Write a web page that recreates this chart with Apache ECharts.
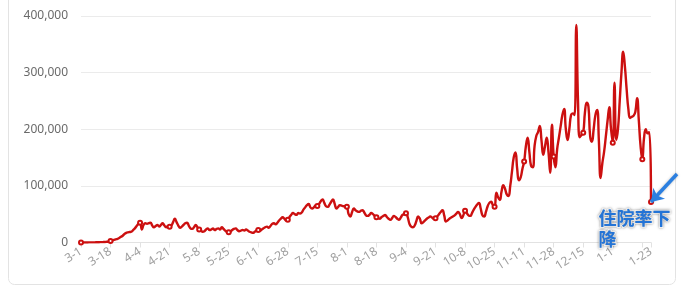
<!DOCTYPE html>
<html>
<head>
<meta charset="utf-8">
<script src="https://cdn.jsdelivr.net/npm/echarts@6/dist/echarts.min.js"></script>
<style>
html,body{margin:0;padding:0;background:#fff;}
#c{width:692px;height:305px;}
</style>
</head>
<body>
<div id="c"></div>
<script>
// Daily values, 2020-03-01 .. 2021-01-23
const mar = [0,0,0,100,100,200,200,300,300,400,500,600,700,800,1000,1300,1800,2600,3500,4500,5500,6500,8000,10000,12000,15000,17000,18000,18500,19000,22000];
const apr = [25000,29000,33000,35000,23000,31000,34000,33000,34000,35000,30000,27000,29000,31000,28000,31000,34000,30000,27000,29000,28000,30000,36000,42000,36000,30000,26000,28000,31000,34000];
const may = [35000,30000,25000,24000,27000,31000,27000,23000,21000,19000,20000,23000,25000,22000,23000,25000,22000,24000,25000,23000,27000,24000,21000,19000,18000,19000,22000,24000,25000,22000,20000];
const jun = [21000,22000,21000,23000,21000,19000,18000,17000,19000,21000,22000,21000,23000,25000,27000,28000,26000,29000,33000,34000,32000,35000,39000,42000,44500,42000,39000,40000,45000,49000];
const jul = [52000,50000,49000,52000,51000,53000,58000,62000,66000,68000,62000,60000,62000,65000,64500,68000,73000,76000,70000,64000,63000,67000,72000,76000,68000,60000,63000,66000,65000,64000,64000];
const aug = [63000,50000,46000,54000,60000,57000,55000,54000,56000,57000,53000,48000,47000,49000,52000,50000,47000,44500,43000,42000,45000,47000,48600,45000,42000,40000,43000,47000,45000,42000,40000];
const sep = [44000,48600,50000,51600,45000,33000,28000,27000,30000,38000,46000,42000,34000,36000,39000,42000,44000,46000,44000,42000,43000,46000,50000,54000,57000,48000,37000,39000,42000,44000];
const oct = [46000,48000,51000,54000,50000,43000,48000,56000,52000,48000,47000,52000,58000,63000,67000,70000,60000,48000,46000,54000,64000,70000,72000,66000,63000,88000,80000,75000,90000,101000,95000];
const nov = [85000,82000,100000,125000,150000,159000,130000,110000,115000,130000,143000,170000,185000,160000,135000,133000,170000,188000,195000,206000,180000,155000,170000,185000,160000,123000,208000,152000,133000,165000];
const dec = [185000,205000,225000,236000,200000,181000,200000,225000,228000,225000,384000,250000,186000,190000,194000,230000,247000,240000,187000,178000,200000,225000,234000,180000,114000,140000,160000,187000,215000,239000,200000];
const jan = [176000,282000,181000,200000,250000,300000,337000,310000,270000,235000,220000,222000,224000,231000,255000,215000,170000,147000,185000,200000,193000,195000,71500];

const values = [].concat(mar, apr, may, jun, jul, aug, sep, oct, nov, dec, jan);

// Category labels: one per day starting 3-1
const categories = [];
{
  const start = Date.UTC(2020, 2, 1);
  for (let i = 0; i < values.length; i++) {
    const d = new Date(start + i * 86400000);
    categories.push((d.getUTCMonth() + 1) + '-' + d.getUTCDate());
  }
}
const yTicks = [0, 100000, 200000, 300000, 400000];
const annotationText = '住院率下降';

const last = values.length - 1;
const chart = echarts.init(document.getElementById('c'), null, {renderer: 'canvas'});
chart.setOption({
  animation: false,
  graphic: [{
    type: 'rect',
    shape: {x: 8.5, y: -10, width: 667, height: 294.5, r: 6},
    style: {fill: 'none', stroke: '#e3e3e3', lineWidth: 1},
    silent: true, z: -1
  }],
  grid: {left: 81, right: 41, top: 16, bottom: 62.5, containLabel: false},
  xAxis: {
    type: 'category',
    data: categories,
    boundaryGap: false,
    axisLine: {lineStyle: {color: '#e2e2e2'}},
    axisTick: {show: true, lineStyle: {color: '#e2e2e2'}, length: 5},
    axisLabel: {
      rotate: 32,
      color: '#a0a0a0',
      fontSize: 12,
      fontFamily: 'Noto Sans',
      margin: 8,
      interval: function (idx) { return idx % 17 === 0 || idx === last; },
      formatter: function (v, idx) { return (idx % 17 === 0 && last - idx < 10) ? '' : v; }
    }
  },
  yAxis: {
    type: 'value',
    min: yTicks[0],
    max: yTicks[yTicks.length - 1],
    interval: yTicks[1] - yTicks[0],
    axisLine: {show: false},
    axisTick: {show: false},
    splitLine: {lineStyle: {color: '#ebebeb'}},
    axisLabel: {
      color: '#6a6a6a',
      fontSize: 12,
      fontFamily: 'Noto Sans',
      margin: 13,
      formatter: function (v) { return v.toLocaleString('en-US'); }
    }
  },
  series: [{
    type: 'line',
    data: values,
    smooth: true,
    symbol: 'emptyCircle',
    symbolSize: 4,
    lineStyle: {color: '#cc1010', width: 2.4},
    itemStyle: {color: '#cc1010', borderWidth: 1},
    markLine: {
      silent: true,
      symbol: ['none', 'arrow'],
      symbolSize: [12, 12],
      label: {show: false},
      lineStyle: {color: '#2b7fe0', width: 3.5, type: 'solid', shadowColor: 'rgba(0,0,0,0.25)', shadowBlur: 3},
      data: [[{x: 677, y: 174}, {coord: [categories[last], values[last]]}]]
    },
    markPoint: {
      silent: true,
      symbol: 'circle',
      symbolSize: 1,
      itemStyle: {color: 'rgba(0,0,0,0)'},
      data: [{coord: [categories[last], values[last]]}],
      label: {
        show: true,
        formatter: annotationText,
        position: [-52, 6],
        align: 'left',
        verticalAlign: 'top',
        width: 78,
        overflow: 'break',
        lineHeight: 21,
        fontSize: 18,
        fontWeight: 'bold',
        fontFamily: 'Noto Sans CJK SC',
        color: '#2474d6',
        textBorderColor: '#ffffff',
        textBorderWidth: 2,
        textShadowColor: 'rgba(0,0,0,0.35)',
        textShadowBlur: 3
      }
    }
  }]
});
</script>
</body>
</html>
